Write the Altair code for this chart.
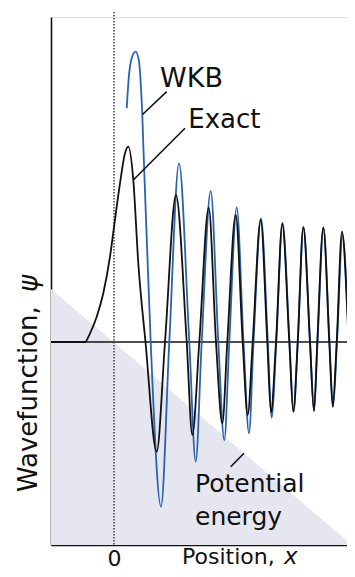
import altair as alt
import pandas as pd

# Exact wavefunction: position, psi
exact_x = [-0.63, -0.29, -0.24, -0.173, -0.107, -0.04, 0.0, 0.06, 0.11, 0.143, 0.193, 0.243, 0.315,
           0.427, 0.51, 0.62, 0.727, 0.783, 0.853, 0.947, 1.02, 1.083, 1.133, 1.217, 1.287, 1.337,
           1.387, 1.467, 1.533, 1.57, 1.62, 1.683, 1.753, 1.793, 1.837, 1.893, 1.96, 2.0, 2.033,
           2.093, 2.153, 2.187, 2.227, 2.28, 2.347, 2.377, 2.415]
exact_y = [0.0, 0.0, 0.087, 0.253, 0.487, 0.853, 1.15, 1.587, 1.887, 1.953, 1.62, 0.787, 0.0,
           -1.097, 0.0, 1.47, 0.0, -0.93, 0.0, 1.343, 0.0, -0.813, 0.0, 1.27, 0.0, -0.73,
           0.0, 1.22, 0.0, -0.703, 0.0, 1.18, 0.0, -0.697, 0.0, 1.147, 0.0, -0.69, 0.0,
           1.147, 0.0, -0.647, 0.0, 1.103, 0.0, -0.63, 0.0]

# WKB approximation
wkb_x = [0.127, 0.15, 0.177, 0.217, 0.25, 0.27, 0.283, 0.293, 0.33, 0.367, 0.47, 0.553, 0.65,
         0.753, 0.817, 0.877, 0.967, 1.043, 1.103, 1.153, 1.227, 1.295, 1.35, 1.395, 1.47,
         1.538, 1.575, 1.623, 1.685, 1.755, 1.795, 1.838, 1.895, 1.96, 2.0, 2.035, 2.095,
         2.155, 2.19, 2.23, 2.285, 2.35, 2.38, 2.415]
wkb_y = [2.337, 2.67, 2.837, 2.903, 2.803, 2.537, 2.27, 1.97, 0.97, 0.0, -1.647, 0.0, 1.787,
         0.0, -1.197, 0.0, 1.51, 0.0, -0.98, 0.0, 1.347, 0.0, -0.913, 0.0, 1.237,
         0.0, -0.757, 0.0, 1.19, 0.0, -0.70, 0.0, 1.15, 0.0, -0.69, 0.0, 1.14,
         0.0, -0.65, 0.0, 1.07, 0.0, -0.63, 0.0]

# Potential energy (linear)
pot_x = [-0.63, 2.38]
pot_y = [0.53, -2.03]

X_DOMAIN = [-0.63, 2.33]
Y_DOMAIN = [-2.03, 3.25]
x_ticks = [0]

# annotation labels
label_text = ["WKB", "Exact", "Potential", "energy"]
label_x = [0.46, 0.743, 0.81, 0.81]
label_y = [2.553, 2.137, -1.497, -1.83]
label_size = [27, 26, 25, 25]

# leader lines
lead_x = [0.527, 0.71, 1.30]
lead_x2 = [0.285, 0.193, 1.167]
lead_y = [2.503, 2.137, -1.113]
lead_y2 = [2.275, 1.62, -1.247]

W, H = 296, 528
FONT = "DejaVu Sans"
BLUE = "#2a62b0"
BLACK = "#111111"

xs = alt.Scale(domain=X_DOMAIN, nice=False, zero=False)
ys = alt.Scale(domain=Y_DOMAIN, nice=False, zero=False)
AX = alt.Axis(values=x_ticks, title=None, ticks=False, labelFontSize=22, labelFont=FONT,
              labelColor=BLACK, labelPadding=3, domainColor=BLACK, domainWidth=1.6, grid=False)
AY = alt.Axis(title=None, ticks=False, labels=False, domainColor=BLACK, domainWidth=1.6, grid=False)

exact_df = pd.DataFrame({"x": exact_x, "y": exact_y})
wkb_df = pd.DataFrame({"x": wkb_x, "y": wkb_y})
pot_df = pd.DataFrame({"x": pot_x, "y": pot_y, "b": [Y_DOMAIN[0]] * len(pot_x)})
lab_df = pd.DataFrame({"x": label_x, "y": label_y, "t": label_text, "s": label_size})
lead_df = pd.DataFrame({"x": lead_x, "x2": lead_x2, "y": lead_y, "y2": lead_y2})
one = pd.DataFrame({"a": [0]})

area = alt.Chart(pot_df).mark_area(color="#e6e6f1", clip=True).encode(
    x=alt.X("x:Q", scale=xs, axis=AX),
    y=alt.Y("y:Q", scale=ys, axis=AY),
    y2="b:Q",
)

zero_rule = alt.Chart(pd.DataFrame({"y": [0.0]})).mark_rule(color=BLACK, strokeWidth=1.5).encode(
    y=alt.Y("y:Q", scale=ys, axis=AY), x=alt.value(0), x2=alt.value(W)
)

dotted = alt.Chart(pd.DataFrame({"x": [0.0]})).mark_rule(
    color="#333333", strokeWidth=1.4, strokeDash=[1.5, 1.5]
).encode(x=alt.X("x:Q", scale=xs, axis=AX), y=alt.value(-5), y2=alt.value(H))

wkb = alt.Chart(wkb_df).mark_line(color=BLUE, strokeWidth=1.8, interpolate="monotone", clip=True).encode(
    x=alt.X("x:Q", scale=xs, axis=AX), y=alt.Y("y:Q", scale=ys, axis=AY), order="x:Q"
)
exact = alt.Chart(exact_df).mark_line(color=BLACK, strokeWidth=1.8, interpolate="monotone", clip=True).encode(
    x=alt.X("x:Q", scale=xs, axis=AX), y=alt.Y("y:Q", scale=ys, axis=AY), order="x:Q"
)

leaders = alt.Chart(lead_df).mark_rule(color=BLACK, strokeWidth=1.6).encode(
    x=alt.X("x:Q", scale=xs, axis=AX), x2="x2:Q",
    y=alt.Y("y:Q", scale=ys, axis=AY), y2="y2:Q",
)

labels = alt.Chart(lab_df).mark_text(font=FONT, align="left", baseline="alphabetic", color=BLACK).encode(
    x=alt.X("x:Q", scale=xs, axis=AX), y=alt.Y("y:Q", scale=ys, axis=AY),
    text="t:N", size=alt.Size("s:Q", scale=None, legend=None),
)

xt1 = alt.Chart(one).mark_text(font=FONT, fontSize=22, align="left", baseline="alphabetic",
                               color=BLACK).encode(x=alt.value(131), y=alt.value(546.5),
                                                   text=alt.value("Position,"))
xt2 = alt.Chart(one).mark_text(font=FONT, fontSize=23, fontStyle="italic", align="left",
                               baseline="alphabetic", color=BLACK).encode(
    x=alt.value(233), y=alt.value(546.5), text=alt.value("x"))
yt1 = alt.Chart(one).mark_text(font=FONT, fontSize=26, angle=270, align="left", baseline="alphabetic",
                               color=BLACK).encode(x=alt.value(-14.5), y=alt.value(475),
                                                   text=alt.value("Wavefunction,"))
yt2 = alt.Chart(one).mark_text(font=FONT, fontSize=26, angle=270, fontStyle="italic", align="left",
                               baseline="alphabetic", color=BLACK).encode(
    x=alt.value(-14.5), y=alt.value(275), text=alt.value("ψ"))

chart = alt.layer(area, zero_rule, dotted, wkb, exact, leaders, labels, xt1, xt2, yt1, yt2).properties(
    width=W, height=H, autosize="none",
    padding={"left": 43, "top": 9, "right": 0, "bottom": 24},
).configure_view(stroke=None).configure(background="white")

chart.save("out.html", embed_options={"renderer": "svg", "actions": False})
